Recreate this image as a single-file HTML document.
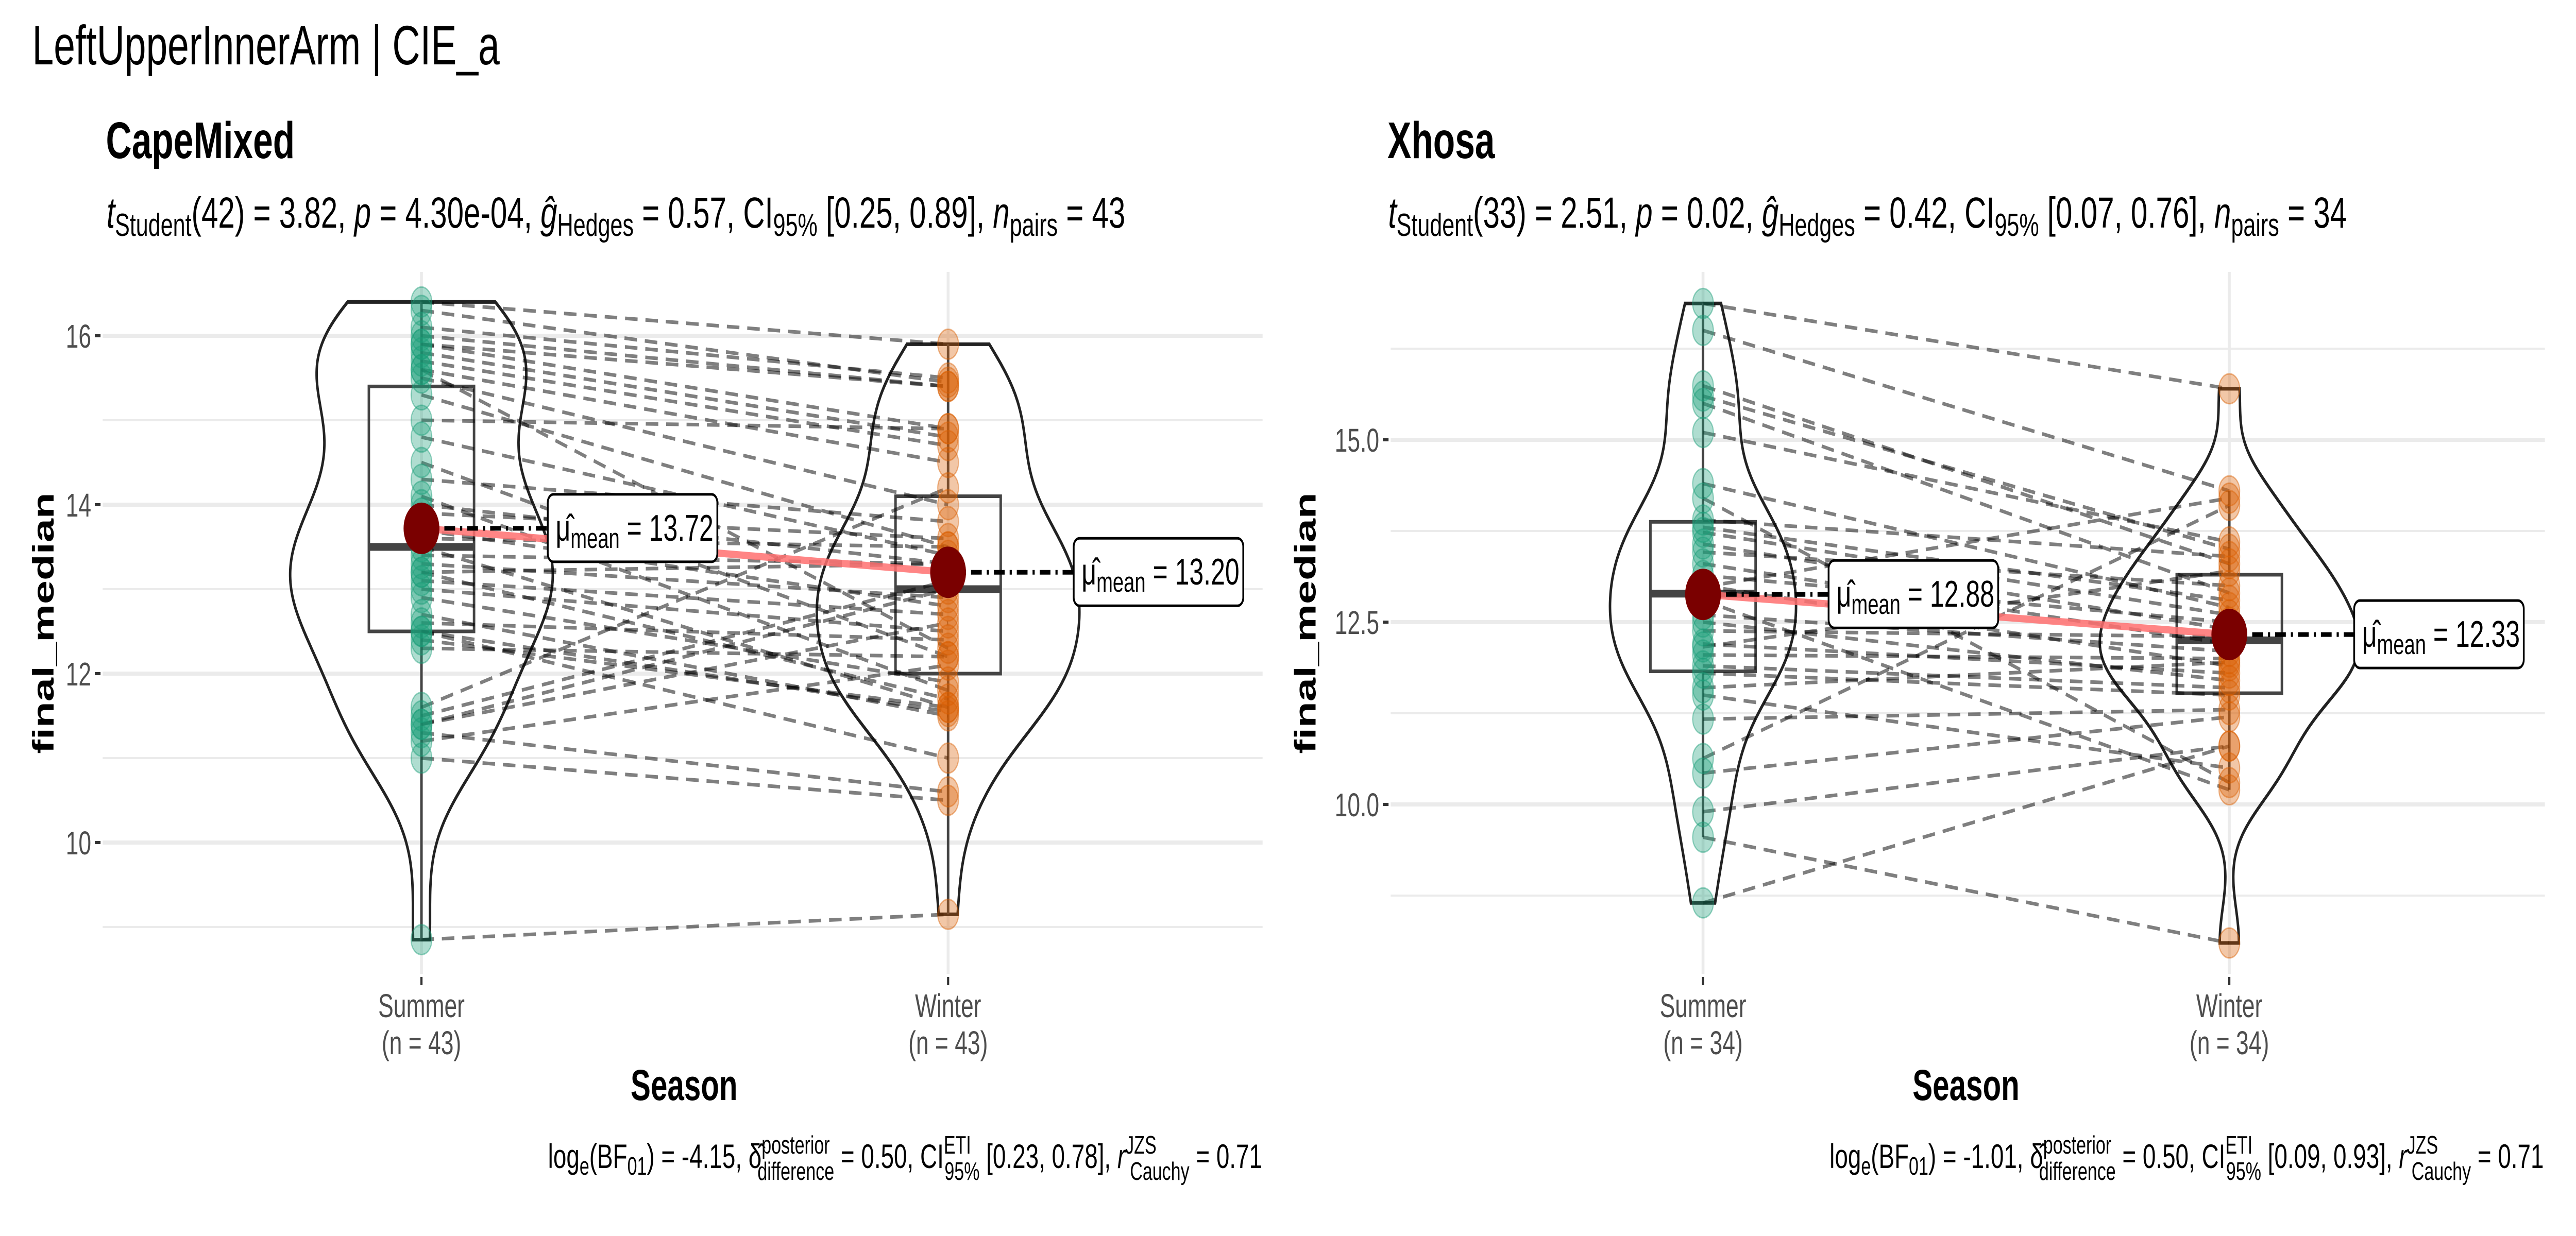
<!DOCTYPE html>
<html><head><meta charset="utf-8">
<meta name="viewport" content="width=7200">
<style>
html,body{margin:0;padding:0;background:#fff;width:100%;height:100%;overflow:hidden;}
svg{display:block;width:100vw;height:100vh;}
svg text{font-family:"Liberation Sans",Arial,sans-serif;}
</style></head>
<body>
<svg id="chart" xmlns="http://www.w3.org/2000/svg" viewBox="0 0 7200 2400" preserveAspectRatio="none">
<rect width="7200" height="2400" fill="#fff"/>
<text x="90" y="125" font-size="108" fill="#000">LeftUpperInnerArm | CIE_a</text>
<g id="pL"></g>
<g id="pR"></g>
<g id="ann">
<text x="296" y="307" font-size="100" font-weight="bold">CapeMixed</text>
<text x="3878" y="307" font-size="100" font-weight="bold">Xhosa</text>
<text x="298" y="442" font-size="84"><tspan font-style="italic">t</tspan><tspan dy="16" font-size="62">Student</tspan><tspan dy="-16">(42) = 3.82, </tspan><tspan font-style="italic">p</tspan><tspan> = 4.30e-04, </tspan><tspan font-style="italic">ĝ</tspan><tspan dy="16" font-size="62">Hedges</tspan><tspan dy="-16"> = 0.57, CI</tspan><tspan dy="16" font-size="62">95%</tspan><tspan dy="-16"> [0.25, 0.89], </tspan><tspan font-style="italic">n</tspan><tspan dy="16" font-size="62">pairs</tspan><tspan dy="-16"> = 43</tspan></text>
<text x="3880" y="442" font-size="84"><tspan font-style="italic">t</tspan><tspan dy="16" font-size="62">Student</tspan><tspan dy="-16">(33) = 2.51, </tspan><tspan font-style="italic">p</tspan><tspan> = 0.02, </tspan><tspan font-style="italic">ĝ</tspan><tspan dy="16" font-size="62">Hedges</tspan><tspan dy="-16"> = 0.42, CI</tspan><tspan dy="16" font-size="62">95%</tspan><tspan dy="-16"> [0.07, 0.76], </tspan><tspan font-style="italic">n</tspan><tspan dy="16" font-size="62">pairs</tspan><tspan dy="-16"> = 34</tspan></text>
<text transform="translate(150,1210) rotate(-90)" text-anchor="middle" font-size="83" font-weight="bold">final_median</text>
<text transform="translate(3677,1210) rotate(-90)" text-anchor="middle" font-size="83" font-weight="bold">final_median</text>
<text x="1912" y="2136" text-anchor="middle" font-size="84" font-weight="bold">Season</text>
<text x="5495" y="2136" text-anchor="middle" font-size="84" font-weight="bold">Season</text>
<text x="3528" y="2268" text-anchor="end" font-size="66">log<tspan dy="13" font-size="49">e</tspan><tspan dy="-13">(BF</tspan><tspan dy="13" font-size="49">01</tspan><tspan dy="-13">) = -4.15, δ̂</tspan><tspan dy="-28" font-size="49">posterior</tspan><tspan dx="-202" dy="51" font-size="49">difference</tspan><tspan dy="-23"> = 0.50, CI</tspan><tspan dy="-28" font-size="49">ETI</tspan><tspan dx="-74" dy="51" font-size="49">95%</tspan><tspan dy="-23"> [0.23, 0.78], </tspan><tspan font-style="italic">r</tspan><tspan dy="-28" font-size="49">JZS</tspan><tspan dx="-74" dy="51" font-size="49">Cauchy</tspan><tspan dy="-23"> = 0.71</tspan></text>
<text x="7110" y="2268" text-anchor="end" font-size="66">log<tspan dy="13" font-size="49">e</tspan><tspan dy="-13">(BF</tspan><tspan dy="13" font-size="49">01</tspan><tspan dy="-13">) = -1.01, δ̂</tspan><tspan dy="-28" font-size="49">posterior</tspan><tspan dx="-202" dy="51" font-size="49">difference</tspan><tspan dy="-23"> = 0.50, CI</tspan><tspan dy="-28" font-size="49">ETI</tspan><tspan dx="-74" dy="51" font-size="49">95%</tspan><tspan dy="-23"> [0.09, 0.93], </tspan><tspan font-style="italic">r</tspan><tspan dy="-28" font-size="49">JZS</tspan><tspan dx="-74" dy="51" font-size="49">Cauchy</tspan><tspan dy="-23"> = 0.71</tspan></text>
</g>
</svg>
<script>
// ---- data: CapeMixed (paired order) ----
const groups = ["Summer", "Winter"];
const capeSummer = [16.4,16.3,16.1,16.0,15.9,15.9,15.8,15.7,15.6,15.6,15.5,15.3,15.0,14.8,14.5,14.3,14.1,14.0,13.9,13.7,13.6,13.5,13.4,13.3,13.2,13.2,13.1,13.0,12.9,12.7,12.6,12.5,12.5,12.4,12.3,11.6,11.5,11.4,11.4,11.3,11.2,11.0,8.85];
const capeWinter = [15.9,15.45,15.5,15.4,14.9,15.4,14.8,14.7,14.5,12.3,14.0,13.5,14.9,13.4,12.2,13.8,11.8,13.3,13.6,12.8,13.5,11.6,13.3,12.9,13.3,11.7,12.7,12.5,11.9,11.5,12.4,11.55,11.0,11.6,12.2,14.2,13.1,12.6,13.0,10.6,12.1,10.5,9.15];
const capeMeans = [13.72, 13.20];
const capeMeanLabels = ["13.72", "13.20"];
const capeTicks = [10, 12, 14, 16];
const capeTickLabels = ["10", "12", "14", "16"];
const capeMinor = [9, 11, 13, 15];
// ---- data: Xhosa (paired order) ----
const xhosaSummer = [16.87,16.5,15.74,15.6,15.5,15.1,14.4,14.2,13.9,13.8,13.73,13.57,13.46,13.3,13.14,13.0,12.98,12.8,12.6,12.5,12.38,12.2,12.16,12.05,11.9,11.8,11.6,11.5,11.17,10.63,10.43,9.9,9.55,8.65];
const xhosaWinter = [15.7,14.3,13.3,13.5,12.9,13.6,12.7,10.3,13.4,12.8,12.6,12.4,13.0,12.2,12.5,11.9,14.2,10.2,12.1,11.7,12.3,11.8,13.2,12.0,11.6,11.5,11.95,10.5,11.3,14.1,11.2,10.8,8.1,10.8];
const xhosaMeans = [12.88, 12.33];
const xhosaMeanLabels = ["12.88", "12.33"];
const xhosaTicks = [10, 12.5, 15];
const xhosaTickLabels = ["10.0", "12.5", "15.0"];
const xhosaMinor = [8.75, 11.25, 13.75, 16.25];

const NS = "http://www.w3.org/2000/svg";
function mk(tag, attrs, parent) {
  const e = document.createElementNS(NS, tag);
  for (const k in attrs) e.setAttribute(k, attrs[k]);
  if (parent) parent.appendChild(e);
  return e;
}
function quant(a, p) {
  const s = [...a].sort((x, y) => x - y);
  const h = (s.length - 1) * p, lo = Math.floor(h);
  return s[lo] + (h - lo) * ((s[lo + 1] !== undefined ? s[lo + 1] : s[lo]) - s[lo]);
}
function sd(a) {
  const m = a.reduce((s, v) => s + v, 0) / a.length;
  return Math.sqrt(a.reduce((s, v) => s + (v - m) * (v - m), 0) / (a.length - 1));
}
function kde(a) {
  const n = a.length;
  const iqr = quant(a, 0.75) - quant(a, 0.25);
  const bw = 0.9 * Math.min(sd(a), iqr / 1.34) * Math.pow(n, -0.2);
  const lo = Math.min(...a), hi = Math.max(...a);
  const pts = [];
  for (let i = 0; i <= 200; i++) {
    const v = lo + (hi - lo) * i / 200;
    let d = 0;
    for (const x of a) d += Math.exp(-0.5 * ((v - x) / bw) ** 2);
    pts.push([v, d / (n * bw * Math.sqrt(2 * Math.PI))]);
  }
  return pts;
}

function panel(g, cfg) {
  const y = v => cfg.yTop + (cfg.yRef - v) * cfg.ppu;
  const xs = cfg.xs;
  for (const m of cfg.minor) {
    const l = mk("line", {x1: cfg.x0, x2: cfg.x1, y1: y(m), y2: y(m), stroke: "#ebebeb", "stroke-width": 4}, g);
    
    
  }
  cfg.ticks.forEach((t, i) => {
    const l = mk("line", {x1: cfg.x0, x2: cfg.x1, y1: y(t), y2: y(t), stroke: "#ebebeb", "stroke-width": 8}, g);
    
    
    const tk = mk("line", {x1: cfg.x0 - 22, x2: cfg.x0 - 6, y1: y(t), y2: y(t), stroke: "#333", "stroke-width": 6}, g);
    
    
    const tx = mk("text", {x: cfg.x0 - 32, y: y(t) + 23, "font-size": 64, fill: "#4d4d4d", "text-anchor": "end"}, g);
    tx.textContent = cfg.tickLabels[i];
    
    
  });
  xs.forEach(x => {
    const l = mk("line", {x1: x, x2: x, y1: cfg.pTop, y2: cfg.pBot, stroke: "#ebebeb", "stroke-width": 8}, g);
    
    
    const tk = mk("line", {x1: x, x2: x, y1: cfg.pBot + 6, y2: cfg.pBot + 22, stroke: "#333", "stroke-width": 6}, g);
    
    
  });
  const data = [cfg.s, cfg.w];
  const dens = data.map(kde);
  dens.forEach((d, gi) => {
    const maxD = Math.max(...d.map(p => p[1]));
    const sc = cfg.vHalf[gi] / maxD;
    const right = d.map(p => [xs[gi] + p[1] * sc, y(p[0])]);
    const left = d.map(p => [xs[gi] - p[1] * sc, y(p[0])]).reverse();
    const pts = right.concat(left).map(p => p[0].toFixed(1) + "," + p[1].toFixed(1)).join(" ");
    const v = mk("polygon", {points: pts, fill: "none", stroke: "#222", "stroke-width": 7}, g);
    
    
  });
  data.forEach((a, gi) => {
    const q1 = quant(a, 0.25), q2 = quant(a, 0.5), q3 = quant(a, 0.75), iqr = q3 - q1;
    const hiW = Math.max(...a.filter(v => v <= q3 + 1.5 * iqr));
    const loW = Math.min(...a.filter(v => v >= q1 - 1.5 * iqr));
    const x = xs[gi], hw = 147;
    const bx = mk("g", {}, g);
    
    
    mk("line", {x1: x, x2: x, y1: y(hiW), y2: y(q3), stroke: "#444", "stroke-width": 7}, bx);
    mk("line", {x1: x, x2: x, y1: y(q1), y2: y(loW), stroke: "#444", "stroke-width": 7}, bx);
    mk("rect", {x: x - hw, y: y(q3), width: 2 * hw, height: y(q1) - y(q3), fill: "none", stroke: "#444", "stroke-width": 7}, bx);
    mk("line", {x1: x - hw, x2: x + hw, y1: y(q2), y2: y(q2), stroke: "#444", "stroke-width": 15}, bx);
  });
  cfg.s.forEach((v, i) => {
    const l = mk("line", {x1: xs[0], y1: y(v), x2: xs[1], y2: y(cfg.w[i]), stroke: "#000", "stroke-opacity": 0.5, "stroke-width": 7, "stroke-dasharray": "35 22"}, g);
    
    
  });
  const cols = ["#1b9e77", "#d95f02"];
  data.forEach((a, gi) => a.forEach(v => {
    const c = mk("circle", {cx: xs[gi], cy: y(v), r: 29, fill: cols[gi], "fill-opacity": 0.35, stroke: cols[gi], "stroke-opacity": 0.45, "stroke-width": 3}, g);
    
    
  }));
  const ml = mk("line", {x1: xs[0], y1: y(cfg.means[0]), x2: xs[1], y2: y(cfg.means[1]), stroke: "#ff7070", "stroke-opacity": 0.85, "stroke-width": 14}, g);
  
  
  cfg.means.forEach((m, gi) => {
    const lx = cfg.labX[gi];
    const dl = mk("line", {x1: xs[gi], y1: y(m), x2: lx, y2: y(m), stroke: "#000", "stroke-width": 9, "stroke-dasharray": "30 14 6 14"}, g);
    
    
    const c = mk("circle", {cx: xs[gi], cy: y(m), r: 50, fill: "#7a0000"}, g);
    
    
    const lg = mk("g", {}, g);
    
    
    mk("rect", {x: lx, y: y(m) - 66, width: 474, height: 131, rx: 16, fill: "#fff", stroke: "#000", "stroke-width": 5}, lg);
    const t = mk("text", {x: lx + 22, y: y(m) + 24, "font-size": 72, fill: "#000"}, lg);
    t.innerHTML = '<tspan>μ̂</tspan><tspan dy="14" font-size="55">mean</tspan><tspan dy="-14"> = ' + cfg.meanLabels[gi] + '</tspan>';
  });
  xs.forEach((x, gi) => {
    const t = mk("text", {x: x, y: cfg.pBot + 84, "font-size": 64, fill: "#4d4d4d", "text-anchor": "middle"}, g);
    t.textContent = groups[gi];
    
    
    const t2 = mk("text", {x: x, y: cfg.pBot + 156, "font-size": 64, fill: "#4d4d4d", "text-anchor": "middle"}, g);
    t2.textContent = "(n = " + data[gi].length + ")";
    
    
  });
}

panel(document.getElementById("pL"), {
  x0: 287, x1: 3529, pTop: 528, pBot: 1891, yTop: 652, yRef: 16, ppu: 164,
  xs: [1178, 2650], vHalf: [367, 367], labX: [1531, 3001],
  s: capeSummer, w: capeWinter, means: capeMeans, meanLabels: capeMeanLabels,
  ticks: capeTicks, tickLabels: capeTickLabels, minor: capeMinor
});
panel(document.getElementById("pR"), {
  x0: 3887, x1: 7113, pTop: 528, pBot: 1891, yTop: 854, yRef: 15, ppu: 141.6,
  xs: [4760, 6231], vHalf: [260, 362], labX: [5111, 6580],
  s: xhosaSummer, w: xhosaWinter, means: xhosaMeans, meanLabels: xhosaMeanLabels,
  ticks: xhosaTicks, tickLabels: xhosaTickLabels, minor: xhosaMinor
});
</script>
</body></html>
